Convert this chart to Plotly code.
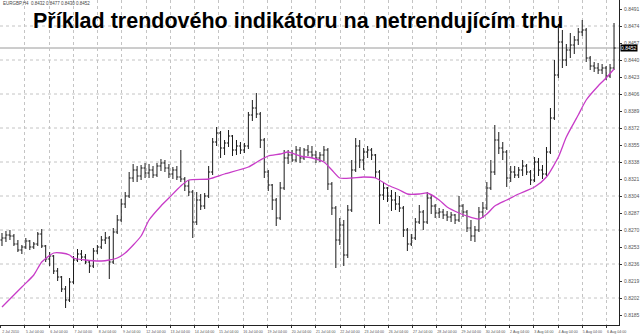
import plotly.graph_objects as go

# ---------------- data ----------------
bar_index = list(range(155))

opens = [0.8260,0.8262,0.8265,0.8264,0.8256,0.8250,0.8253,0.8259,0.8253,0.8256,
         0.8266,0.8254,0.8241,0.8244,0.8229,0.8223,0.8211,0.8200,0.8218,0.8240,
         0.8246,0.8243,0.8238,0.8234,0.8249,0.8253,0.8260,0.8262,0.8238,0.8268,
         0.8280,0.8296,0.8304,0.8322,0.8330,0.8324,0.8332,0.8327,0.8330,0.8325,
         0.8334,0.8337,0.8332,0.8326,0.8330,0.8323,0.8321,0.8314,0.8308,0.8278,
         0.8300,0.8294,0.8304,0.8328,0.8358,0.8367,0.8352,0.8357,0.8364,0.8350,
         0.8354,0.8350,0.8354,0.8385,0.8392,0.8386,0.8360,0.8328,0.8315,0.8300,
         0.8282,0.8312,0.8342,0.8345,0.8340,0.8350,0.8342,0.8350,0.8348,0.8345,
         0.8342,0.8345,0.8350,0.8316,0.8292,0.8260,0.8275,0.8245,0.8290,0.8330,
         0.8354,0.8340,0.8348,0.8350,0.8345,0.8328,0.8305,0.8312,0.8304,0.8300,
         0.8296,0.8292,0.8270,0.8256,0.8262,0.8278,0.8288,0.8278,0.8302,0.8294,
         0.8287,0.8288,0.8285,0.8283,0.8285,0.8280,0.8294,0.8288,0.8272,0.8264,
         0.8270,0.8288,0.8292,0.8312,0.8328,0.8360,0.8352,0.8348,0.8322,0.8328,
         0.8325,0.8330,0.8334,0.8328,0.8320,0.8338,0.8330,0.8326,0.8348,0.8382,
         0.8425,0.8458,0.8440,0.8450,0.8455,0.8460,0.8468,0.8470,0.8442,0.8434,
         0.8432,0.8430,0.8432,0.8424,0.8432]

highs = [0.8267,0.8269,0.8270,0.8266,0.8260,0.8255,0.8262,0.8260,0.8258,0.8268,
         0.8271,0.8255,0.8248,0.8245,0.8232,0.8224,0.8214,0.8222,0.8244,0.8251,
         0.8250,0.8246,0.8240,0.8252,0.8255,0.8264,0.8268,0.8264,0.8272,0.8285,
         0.8301,0.8308,0.8328,0.8336,0.8334,0.8335,0.8337,0.8336,0.8334,0.8337,
         0.8341,0.8340,0.8336,0.8333,0.8334,0.8350,0.8323,0.8320,0.8310,0.8308,
         0.8306,0.8307,0.8334,0.8362,0.8373,0.8369,0.8360,0.8370,0.8365,0.8360,
         0.8358,0.8357,0.8388,0.8400,0.8407,0.8388,0.8362,0.8330,0.8316,0.8302,
         0.8318,0.8350,0.8350,0.8350,0.8354,0.8353,0.8352,0.8355,0.8354,0.8349,
         0.8348,0.8354,0.8352,0.8318,0.8294,0.8282,0.8280,0.8295,0.8340,0.8362,
         0.8360,0.8352,0.8354,0.8352,0.8346,0.8330,0.8317,0.8313,0.8310,0.8308,
         0.8304,0.8294,0.8272,0.8266,0.8282,0.8295,0.8290,0.8308,0.8305,0.8296,
         0.8292,0.8291,0.8289,0.8288,0.8286,0.8304,0.8296,0.8290,0.8280,0.8274,
         0.8293,0.8298,0.8318,0.8340,0.8375,0.8368,0.8358,0.8350,0.8334,0.8334,
         0.8333,0.8340,0.8336,0.8330,0.8343,0.8342,0.8335,0.8353,0.8392,0.8440,
         0.8476,0.8470,0.8456,0.8467,0.8464,0.8472,0.8480,0.8472,0.8444,0.8438,
         0.8437,0.8436,0.8434,0.8436,0.8477]

lows = [0.8254,0.8258,0.8260,0.8254,0.8248,0.8246,0.8251,0.8250,0.8251,0.8254,
        0.8252,0.8238,0.8234,0.8226,0.8219,0.8208,0.8192,0.8198,0.8216,0.8238,
        0.8239,0.8236,0.8227,0.8232,0.8246,0.8251,0.8256,0.8221,0.8236,0.8266,
        0.8278,0.8292,0.8302,0.8318,0.8318,0.8320,0.8322,0.8322,0.8322,0.8323,
        0.8329,0.8328,0.8322,0.8321,0.8320,0.8318,0.8309,0.8304,0.8262,0.8275,
        0.8290,0.8291,0.8302,0.8325,0.8354,0.8342,0.8345,0.8353,0.8344,0.8345,
        0.8346,0.8347,0.8351,0.8379,0.8382,0.8352,0.8322,0.8309,0.8290,0.8274,
        0.8280,0.8310,0.8336,0.8338,0.8338,0.8337,0.8340,0.8344,0.8342,0.8337,
        0.8338,0.8339,0.8310,0.8285,0.8232,0.8255,0.8234,0.8242,0.8288,0.8328,
        0.8332,0.8330,0.8342,0.8340,0.8322,0.8276,0.8300,0.8298,0.8289,0.8290,
        0.8288,0.8263,0.8249,0.8254,0.8260,0.8276,0.8270,0.8276,0.8286,0.8282,
        0.8282,0.8281,0.8279,0.8278,0.8276,0.8278,0.8283,0.8268,0.8259,0.8258,
        0.8268,0.8282,0.8290,0.8310,0.8325,0.8346,0.8340,0.8313,0.8318,0.8322,
        0.8322,0.8324,0.8325,0.8315,0.8318,0.8324,0.8321,0.8324,0.8346,0.8380,
        0.8422,0.8432,0.8434,0.8442,0.8446,0.8455,0.8464,0.8438,0.8430,0.8428,
        0.8426,0.8426,0.8420,0.8422,0.8430]

closes = [0.8262,0.8265,0.8264,0.8256,0.8250,0.8253,0.8259,0.8253,0.8256,0.8266,
          0.8254,0.8241,0.8244,0.8229,0.8223,0.8211,0.8200,0.8218,0.8240,0.8246,
          0.8243,0.8238,0.8234,0.8249,0.8253,0.8260,0.8262,0.8238,0.8268,0.8280,
          0.8296,0.8304,0.8322,0.8330,0.8324,0.8332,0.8327,0.8330,0.8325,0.8334,
          0.8337,0.8332,0.8326,0.8330,0.8323,0.8321,0.8314,0.8308,0.8278,0.8300,
          0.8294,0.8304,0.8328,0.8358,0.8367,0.8352,0.8357,0.8364,0.8350,0.8354,
          0.8350,0.8354,0.8385,0.8392,0.8386,0.8360,0.8328,0.8315,0.8300,0.8282,
          0.8312,0.8342,0.8345,0.8340,0.8350,0.8342,0.8350,0.8348,0.8345,0.8342,
          0.8345,0.8350,0.8316,0.8292,0.8260,0.8275,0.8245,0.8290,0.8330,0.8354,
          0.8340,0.8348,0.8350,0.8345,0.8328,0.8305,0.8312,0.8304,0.8300,0.8296,
          0.8292,0.8270,0.8256,0.8262,0.8278,0.8288,0.8278,0.8302,0.8294,0.8287,
          0.8288,0.8285,0.8283,0.8285,0.8280,0.8294,0.8288,0.8272,0.8264,0.8270,
          0.8288,0.8292,0.8312,0.8328,0.8360,0.8352,0.8348,0.8322,0.8328,0.8325,
          0.8330,0.8334,0.8328,0.8320,0.8338,0.8330,0.8326,0.8348,0.8382,0.8425,
          0.8458,0.8440,0.8450,0.8455,0.8460,0.8468,0.8470,0.8442,0.8434,0.8432,
          0.8430,0.8432,0.8424,0.8432,0.8452]

ma_index = [0,5,8,10,13,15,17,18,21,25,27,29,31,35,37,40,42,45,47,52,56,62,65,67,
            70,72,75,78,81,83,85,88,91,94,97,100,102,105,107,110,112,115,117,120,
            122,124,127,130,134,137,140,142,145,147,150,152,154]
ma_values = [0.8193,0.8213,0.8225,0.8238,0.8247,0.8247,0.8245,0.8242,0.8240,0.8239,
             0.8240,0.8242,0.8247,0.8264,0.8280,0.8294,0.8302,0.8314,0.8320,0.8321,
             0.8326,0.8333,0.8340,0.8344,0.8346,0.8348,0.8344,0.8342,0.8338,0.8330,
             0.8322,0.8322,0.8323,0.8322,0.8315,0.8310,0.8306,0.8306,0.8307,0.8300,
             0.8293,0.8287,0.8284,0.8281,0.8286,0.8294,0.8300,0.8306,0.8313,0.8323,
             0.8343,0.8363,0.8385,0.8400,0.8414,0.8422,0.8431]

price_ticks = [0.8491,0.8474,0.8457,0.8440,0.8423,0.8406,0.8389,0.8372,0.8355,0.8338,
               0.8321,0.8304,0.8287,0.8270,0.8253,0.8236,0.8219,0.8202,0.8185]
price_grid = [0.8474,0.8440,0.8406,0.8372,0.8338,0.8304,0.8270,0.8236,0.8202]

time_labels = ["2 Jul 2010","5 Jul 04:00","6 Jul 04:00","7 Jul 04:00","8 Jul 04:00",
               "9 Jul 04:00","12 Jul 04:00","13 Jul 04:00","14 Jul 04:00","15 Jul 04:00",
               "16 Jul 04:00","19 Jul 04:00","20 Jul 04:00","21 Jul 04:00","22 Jul 04:00",
               "23 Jul 04:00","26 Jul 04:00","27 Jul 04:00","28 Jul 04:00","29 Jul 04:00",
               "30 Jul 04:00","2 Aug 04:00","3 Aug 04:00","4 Aug 04:00","5 Aug 04:00",
               "6 Aug 04:00"]

symbol_text = "EURGBP,H4  0.8432 0.8477 0.8430 0.8452"
title_text = "Příklad trendového indikátoru na netrendujícím trhu"

# ---------------- figure ----------------
FONT = "Liberation Sans"
time_ticks = [-0.35 + 6.1 * k for k in range(len(time_labels))]

fig = go.Figure()
fig.add_trace(go.Ohlc(
    x=bar_index, open=opens, high=highs, low=lows, close=closes,
    increasing=dict(line=dict(color="#1a1a1a", width=1)),
    decreasing=dict(line=dict(color="#1a1a1a", width=1)),
    tickwidth=0.4, hoverinfo="skip", showlegend=False))
fig.add_trace(go.Scatter(
    x=ma_index, y=ma_values, mode="lines",
    line=dict(color="#c83cc8", width=1.3, shape="spline", smoothing=0.6),
    hoverinfo="skip", showlegend=False))

shapes = []
for v in price_grid:
    shapes.append(dict(type="line", xref="paper", x0=0, x1=1, yref="y", y0=v, y1=v,
                       layer="below", line=dict(color="#c4c4c4", width=1, dash="dot")))
# current price line
shapes.append(dict(type="line", xref="paper", x0=0, x1=1, yref="y",
                   y0=closes[-1], y1=closes[-1], layer="below",
                   line=dict(color="#9a9a9a", width=1)))

fig.update_layout(
    width=640, height=336,
    margin=dict(l=0, r=17, t=0, b=11),
    paper_bgcolor="white", plot_bgcolor="white",
    font=dict(family=FONT, color="#444"),
    shapes=shapes,
    xaxis=dict(range=[-0.5, 155.25], rangeslider=dict(visible=False),
               tickmode="array", tickvals=time_ticks, ticktext=time_labels,
               tickangle=0,
               showgrid=True, gridcolor="#c4c4c4", griddash="dot", gridwidth=1,
               showline=True, linecolor="#222", linewidth=1,
               ticks="outside", ticklen=2, tickcolor="#333",
               tickfont=dict(size=3.6, color="#555", family=FONT),
               ticklabelshift=10, ticklabelstandoff=1, zeroline=False),
    yaxis=dict(range=[0.8175, 0.8500], side="right",
               tickmode="array", tickvals=price_ticks,
               ticktext=[f"{v:.4f}" for v in price_ticks],
               showgrid=False, showline=True, linecolor="#222", linewidth=1,
               ticks="outside", ticklen=2, tickcolor="#333",
               tickfont=dict(size=5, color="#555", family=FONT),
               ticklabelstandoff=1, zeroline=False),
    annotations=[
        dict(text=title_text, xref="paper", yref="paper", x=300/623, y=1 - 7/325,
             xanchor="center", yanchor="top", showarrow=False,
             font=dict(family=FONT, size=21.5, color="black", weight="bold")),
        dict(text=symbol_text, xref="paper", yref="paper", x=0.003, y=1.0,
             xanchor="left", yanchor="top", showarrow=False, borderpad=0,
             font=dict(family=FONT, size=4.5, color="#444")),
        dict(text=f"{closes[-1]:.4f}", xref="paper", yref="y", x=1.002, y=closes[-1],
             xanchor="left", yanchor="middle", showarrow=False,
             bgcolor="black", borderpad=0,
             font=dict(family=FONT, size=5, color="white")),
    ],
)

fig.write_html("out.html")
